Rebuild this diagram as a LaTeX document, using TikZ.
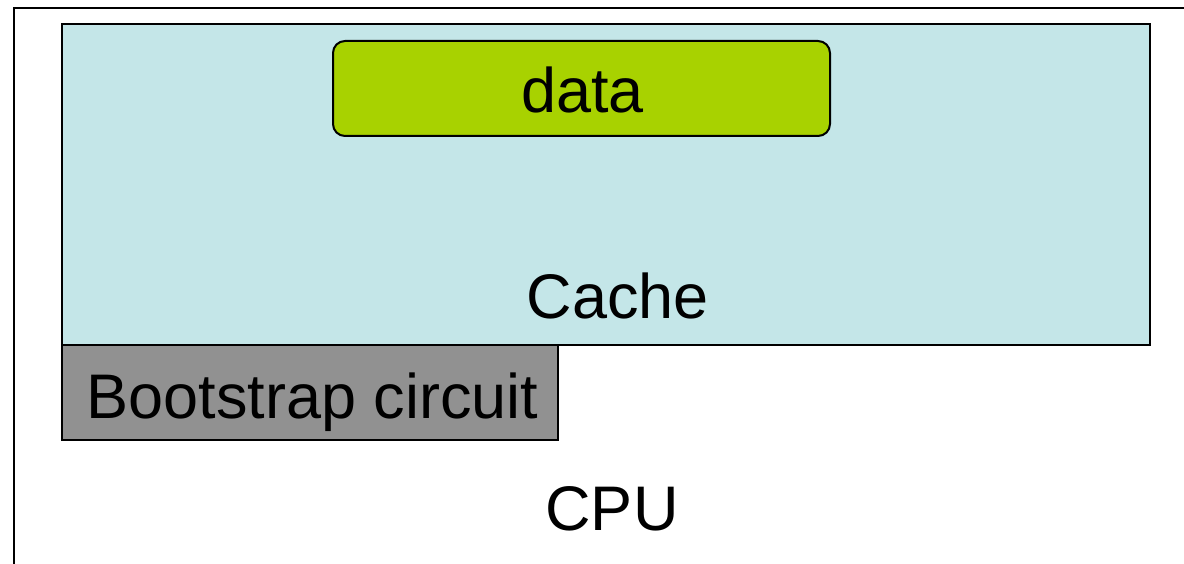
\documentclass[tikz,border=0pt]{standalone}
\usepackage{fontspec}
\setmainfont{Liberation Sans}
\definecolor{cachefill}{RGB}{196,230,232}
\definecolor{datafill}{RGB}{168,210,0}
\definecolor{bootfill}{RGB}{145,145,145}
\tikzset{
  block/.style={draw=black, line width=2.5pt, rectangle, inner sep=0pt},
  caption/.style={anchor=base, inner sep=0pt, font=\fontsize{63}{70}\selectfont}
}
\begin{document}
\begin{tikzpicture}[x=1pt, y=-1pt]
        \useasboundingbox (0,0) rectangle (1184,564);
        \clip (0,0) rectangle (1184,564);
        % boxes
        \node[block, minimum width=1236pt, minimum height=612pt] (cpu) at (632,314) {};
        \node[block, fill=cachefill, minimum width=1088pt, minimum height=321pt] (cache) at (606,184.5) {};
        \node[block, fill=bootfill, minimum width=496pt, minimum height=95pt] (boot) at (310,392.5) {};
        \node[block, fill=datafill, line width=2pt, rounded corners=12pt,
              minimum width=497pt, minimum height=95pt] (data) at (581.5,88.5) {};
        % labels
        \node[caption] (data-txt)  at (582.5,113) {data};
        \node[caption] (cache-txt) at (618,318) {Cache};
        \node[caption] (boot-txt)  at (312.5,418) {Bootstrap circuit};
        \node[caption] (cpu-txt)   at (612,530) {CPU};
\end{tikzpicture}
\end{document}
